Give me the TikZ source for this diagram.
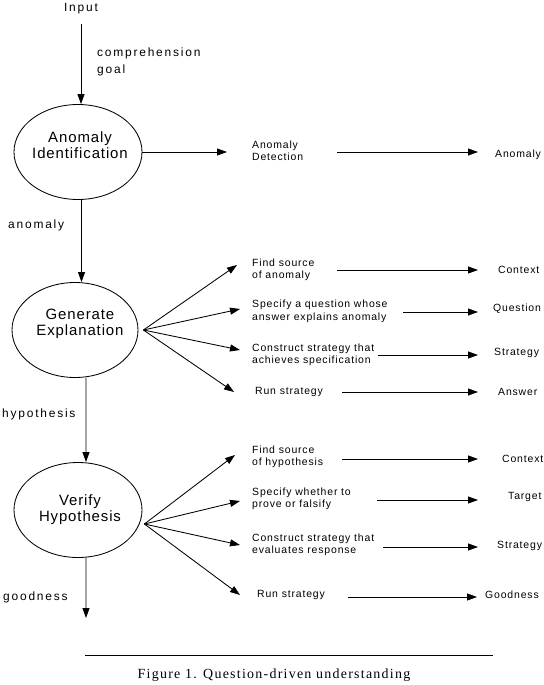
\documentclass[tikz,border=0pt]{standalone}
\usepackage{fontspec}
\setmainfont{Liberation Sans}
\newfontfamily\lblfam{Liberation Sans}[LetterSpace=15]
\newfontfamily\smfam{Liberation Sans}[LetterSpace=8]
\newfontfamily\ellfam{Liberation Sans}[LetterSpace=6]
\newfontfamily\capfam{Liberation Serif}[LetterSpace=9]
\usetikzlibrary{shapes.geometric,arrows.meta}
\tikzset{
  ell/.style={ellipse, draw, line width=0.85bp, minimum width=128bp, minimum height=95bp, inner sep=0pt},
  etxt/.style={inner sep=0pt, align=center, font=\ellfam\fontsize{15}{16}\selectfont},
  lbl/.style={inner sep=0pt, align=left, font=\lblfam\fontsize{12}{17}\selectfont},
  sm/.style={inner sep=0pt, anchor=west, align=left, font=\smfam\fontsize{10.5}{12.5}\selectfont},
  arr/.style={line width=0.85bp, -{Triangle[length=10bp,width=7bp]}},
  ln/.style={line width=0.85bp},
  captxt/.style={inner sep=0pt, font=\capfam\fontsize{14}{16}\selectfont}
}
\begin{document}
\begin{tikzpicture}[x=1bp,y=-1bp]
\useasboundingbox (0,0) rectangle (544,685);

% left column
\node[lbl, anchor=center] (in) at (81,9) {Input};
\node[lbl, anchor=west] (cg) at (97,62) {comprehension\\goal};
\node[ell] (e1) at (78,152) {};
\node[etxt] (e1t) at (80,145) {Anomaly\\Identification};
\node[lbl, anchor=west] (la) at (8,225) {anomaly};
\node[ell, minimum width=126bp] (e2) at (75,330) {};
\node[etxt] (e2t) at (80,324) {Generate\\Explanation};
\node[lbl, anchor=west] (lh) at (2,414) {hypothesis};
\node[ell] (e3) at (78,510) {};
\node[etxt] (e3t) at (80,510) {Verify\\Hypothesis};
\node[lbl, anchor=west] (lg) at (3,597) {goodness};
\coordinate (gout) at (86,618);

\draw[arr, shorten <=9bp] (in.south) -- (in.south |- e1.north);
\draw[arr] ([xshift=3.5bp]e1.south) -- ([xshift=6.5bp]e2.north);
\draw[arr] ([xshift=11bp]e2.south) -- ([xshift=8bp]e3.north);
\draw[arr] ([xshift=8bp]e3.south) -- (gout);

% row 1
\node[sm] (ad) at (252,150.5) {Anomaly\\Detection};
\node[sm] (ra) at (495,155) {Anomaly};
\coordinate (sA) at (337,152);
\draw[arr, shorten >=25bp] (e1.east) -- (e1.east -| ad.west);
\draw[arr, shorten >=17bp] (sA) -- (sA -| ra.west);

% generate explanation
\node[sm] (t1) at (252,270) {Find source\\of anomaly};
\node[sm] (r1) at (498,270) {Context};
\node[sm] (t2) at (252,311.5) {Specify a question whose\\answer explains anomaly};
\node[sm] (r2) at (493,308.5) {Question};
\node[sm] (t3) at (252,355) {Construct strategy that\\achieves specification};
\node[sm] (r3) at (494,352.5) {Strategy};
\node[sm] (t4) at (255,392) {Run strategy};
\node[sm] (r4) at (498,392) {Answer};

\coordinate (p1) at (237,265);
\coordinate (p2) at (240,309);
\coordinate (p3) at (240,350);
\coordinate (p4) at (234,392);
\foreach \p in {p1,p2,p3,p4} \draw[arr] ([xshift=5bp]e2.east) -- (\p);

\coordinate (s1) at (337,270);
\coordinate (s2) at (403,312);
\coordinate (s3) at (378,355);
\coordinate (s4) at (342,392);
\draw[arr, shorten >=20bp] (s1) -- (s1 -| r1.west);
\draw[arr, shorten >=15bp] (s2) -- (s2 -| r2.west);
\draw[arr, shorten >=16bp] (s3) -- (s3 -| r3.west);
\draw[arr, shorten >=20bp] (s4) -- (s4 -| r4.west);

% verify hypothesis
\node[sm] (u1) at (252,457) {Find source\\of hypothesis};
\node[sm] (q1) at (502,459) {Context};
\node[sm] (u2) at (252,499) {Specify whether to\\prove or falsify};
\node[sm] (q2) at (508,497) {Target};
\node[sm] (u3) at (252,545) {Construct strategy that\\evaluates response};
\node[sm] (q3) at (497,546) {Strategy};
\node[sm] (u4) at (257,595) {Run strategy};
\node[sm] (q4) at (485,595) {Goodness};

\coordinate (w1) at (235,455);
\coordinate (w2) at (240,501);
\coordinate (w3) at (240,545);
\coordinate (w4) at (240,595);
\foreach \p in {w1,w2,w3,w4} \draw[arr] ([xshift=2bp,yshift=-14bp]e3.east) -- (\p);

\coordinate (v1) at (342,459);
\coordinate (v2) at (377,500);
\coordinate (v3) at (383,547);
\coordinate (v4) at (348,597);
\draw[arr, shorten >=24bp] (v1) -- (v1 -| q1.west);
\draw[arr, shorten >=30bp] (v2) -- (v2 -| q2.west);
\draw[arr, shorten >=19bp] (v3) -- (v3 -| q3.west);
\draw[arr, shorten >=8bp] (v4) -- (v4 -| q4.west);

% caption
\draw[ln] (85,655) -- (493,655);
\node[captxt] (cap) at (274,675) {Figure 1. Question-driven understanding};
\end{tikzpicture}
\end{document}
